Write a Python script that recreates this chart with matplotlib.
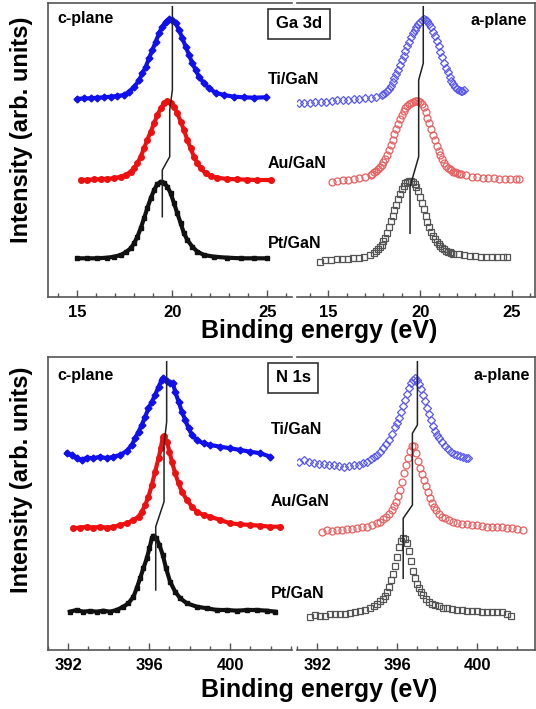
import numpy as np
import matplotlib.pyplot as plt

plt.rcParams['font.family'] = ['Liberation Sans', 'DejaVu Sans']
plt.rcParams['font.weight'] = 'bold'

# ---------------- Ga 3d, c-plane ----------------
ga_c_ti_x = [15.00, 15.35, 15.70, 16.05, 16.40, 16.75, 17.11, 17.46, 17.72, 17.98, 18.25, 18.42, 18.60,
             18.77, 18.95, 19.12, 19.30, 19.47, 19.65, 19.82, 20.00, 20.18, 20.35, 20.53, 20.70, 20.88,
             21.05, 21.23, 21.40, 21.67, 21.93, 22.28, 22.72, 23.25, 23.77, 24.30, 24.91]
ga_c_ti_y = [198, 198.7, 198.7, 199.3, 199.7, 200.3, 201, 202, 205.3, 209.7, 217, 223.7, 230.3,
             238.7, 247, 255.3, 263.7, 270.3, 275.3, 277.7, 277, 273.7, 267, 258.7, 250.3, 242,
             233.7, 227, 220.3, 213.7, 208.7, 204.3, 202, 200.3, 199.7, 199.3, 199.7]
ga_c_au_x = [15.18, 15.53, 15.88, 16.23, 16.58, 16.93, 17.28, 17.54, 17.81, 17.98, 18.16, 18.33, 18.51,
             18.68, 18.86, 19.04, 19.21, 19.39, 19.56, 19.74, 19.91, 20.09, 20.26, 20.44, 20.61, 20.79,
             20.96, 21.14, 21.32, 21.49, 21.75, 22.02, 22.37, 22.89, 23.42, 23.95, 24.47, 25.18]
ga_c_au_y = [117, 117, 117.7, 117.7, 118.3, 118.7, 120.3, 122, 125.3, 128.7, 133.7, 140.3, 148.7,
             157, 165.3, 173.7, 182, 188.7, 193.7, 196, 194.3, 190.3, 183.7, 175.3, 167, 157,
             148.7, 140.3, 133.7, 128.7, 123.7, 121, 119.3, 118, 117.7, 117.3, 117, 117]
ga_c_pt_x = [15.00, 15.53, 16.05, 16.58, 16.93, 17.28, 17.54, 17.81, 17.98, 18.16, 18.33, 18.51, 18.68,
             18.86, 19.04, 19.21, 19.39, 19.56, 19.74, 19.91, 20.09, 20.26, 20.44, 20.61, 20.79, 21.05,
             21.32, 21.67, 22.19, 22.89, 23.60, 24.30, 25.00]
ga_c_pt_y = [38.7, 38.7, 38.7, 39.3, 40.3, 42, 44.7, 48.7, 53.7, 60.3, 68.7, 78.7, 88.7,
             98.7, 107, 113, 115.3, 114.3, 110.3, 103.7, 93.7, 83.7, 73.7, 63.7, 57, 50.3,
             45.3, 42, 40.3, 39.3, 38.7, 38.7, 38.7]
ga_c_guide_x = [20.0, 20.0, 19.86, 19.86, 19.47, 19.47]
ga_c_guide_y = [290.3, 207, 187, 140.3, 127, 80.3]

# ---------------- Ga 3d, a-plane ----------------
ga_a_ti_x = [13.4, 13.7, 14.0, 14.3, 14.6, 14.9, 15.2, 15.5, 15.8, 16.1, 16.4, 16.7, 17.0, 17.3, 17.6, 17.9,
             18.0, 18.1, 18.2, 18.3, 18.4, 18.5, 18.6, 18.7, 18.8, 18.9, 19.0, 19.1, 19.2, 19.3, 19.4,
             19.5, 19.6, 19.7, 19.8, 19.9, 20.0, 20.1, 20.2, 20.3, 20.4, 20.5, 20.6, 20.7, 20.8, 20.9,
             21.0, 21.1, 21.2, 21.3, 21.4, 21.5, 21.6, 21.7, 21.8, 21.9, 22.0, 22.1, 22.2, 22.3, 22.4]
ga_a_ti_y = [193.7, 194.3, 194.3, 195, 195.3, 195.3, 196, 197, 197, 197.3, 197.7, 198.3, 198.7, 199.5, 200.5, 202,
             202.7, 204, 206, 208.5, 211.5, 215, 218.7, 223, 227.5, 232.5, 237, 241.5, 246, 251, 255.5,
             260, 264, 267.5, 270.5, 273, 275.5, 277, 277.7, 277.5, 276.5, 273.5, 270, 265.5, 261, 256,
             251, 245.5, 240, 234.5, 229.5, 225, 220.5, 216.5, 213, 210.5, 208.5, 207, 206.3, 206.5, 207]
ga_a_au_x = [15.2, 15.5, 15.8, 16.1, 16.4, 16.7, 17.0, 17.3,
             17.4, 17.5, 17.6, 17.7, 17.8, 17.9, 18.0, 18.1, 18.2, 18.3, 18.4, 18.5, 18.6, 18.7, 18.8,
             18.9, 19.0, 19.1, 19.2, 19.3, 19.4, 19.5, 19.6, 19.7, 19.8, 19.9, 20.0, 20.1, 20.2, 20.3,
             20.4, 20.5, 20.6, 20.7, 20.8, 20.9, 21.0, 21.1, 21.2, 21.3, 21.4, 21.5, 21.6, 21.7, 21.8,
             21.9, 22.0, 22.1, 22.2,
             22.5, 22.8, 23.1, 23.4, 23.7, 24.0, 24.3, 24.6, 24.9, 25.2, 25.4]
ga_a_au_y = [115.3, 116, 116.7, 117.3, 118, 118.9, 120.3, 122.5,
             123.3, 124.8, 126.3, 128, 129.8, 132.3, 135, 138.5, 142.5, 147, 152, 157.5, 163, 168.5, 173.5,
             178.3, 182.3, 185.7, 188.8, 191.3, 193, 194, 195, 195.8, 196.3, 196.2, 195.5, 193.5, 190, 185,
             179.5, 174, 168.3, 162.5, 157, 151.5, 146.5, 142.3, 138.5, 134.3, 131.5, 129.5, 128, 126.8, 125.5,
             124.6, 124, 123.5, 123,
             121.7, 120.5, 119.8, 119.3, 119, 118.6, 118.2, 118, 117.8, 117.7, 117.7]
ga_a_pt_x = [14.55, 14.85, 15.15, 15.45, 15.75, 16.05, 16.35, 16.65, 16.95, 17.25,
             17.5, 17.6, 17.7, 17.8, 17.9, 18.0, 18.1, 18.2, 18.3, 18.4, 18.5, 18.6, 18.7, 18.8, 18.9,
             19.0, 19.1, 19.2, 19.3, 19.4, 19.5, 19.6, 19.7, 19.8, 19.9, 20.0, 20.1, 20.2, 20.3, 20.4,
             20.5, 20.6, 20.7, 20.8, 20.9, 21.0, 21.1, 21.2, 21.3, 21.4, 21.5, 21.6, 21.7, 21.8,
             22.1, 22.4, 22.7, 23.0, 23.3, 23.6, 23.9, 24.2, 24.5, 24.75]
ga_a_pt_y = [35.3, 36.7, 37.5, 37.7, 38, 38.4, 38.7, 39.5, 40.5, 42,
             44.5, 45.8, 47.7, 50, 52.5, 56, 59.5, 64.5, 70.3, 76, 81.5, 87, 92.5, 98, 103.3,
             108, 111.5, 113.8, 115.5, 116.3, 116.3, 115.3, 113.5, 110.5, 106, 100.5, 94.5, 88, 81.5, 75.5,
             70.3, 65.5, 61.3, 58, 55.2, 52.8, 50.8, 49, 47.6, 46.3, 45.4, 44.6, 43.9, 43.5,
             42.6, 41.8, 41.2, 40.8, 40.4, 40, 39.7, 39.7, 39.7, 39.7]
ga_a_guide_x = [20.17, 20.17, 19.92, 19.92, 19.45, 19.45]
ga_a_guide_y = [290.3, 233.7, 217, 140.3, 110.3, 63.7]

# ---------------- N 1s, c-plane ----------------
n_c_ti_x = [391.92, 392.17, 392.41, 392.66, 392.91, 393.24, 393.57, 393.90, 394.23, 394.56, 394.89,
            395.14, 395.30, 395.47, 395.63, 395.80, 395.96, 396.13, 396.29, 396.46, 396.62, 396.70,
            396.87, 397.03, 397.17, 397.28, 397.45, 397.61, 397.78, 397.94, 398.11, 398.35, 398.68,
            399.01, 399.51, 400.00, 400.50, 400.99, 401.49, 401.98]
n_c_ti_y = [196.7, 195, 191.7, 190, 192.3, 191.7, 193.3, 191.7, 193.3, 195, 199,
            205, 211.7, 218.3, 225, 233.3, 241.7, 248.3, 255, 263.3, 270, 271.7,
            269, 266.7, 266.7, 258.3, 248.3, 238.3, 230, 221.7, 215, 210, 206.7,
            205, 203.3, 201.7, 200, 198.3, 196.7, 193.3]
n_c_au_x = [392.25, 392.58, 392.91, 393.24, 393.57, 393.90, 394.23, 394.56, 394.89, 395.22, 395.47,
            395.63, 395.80, 395.96, 396.13, 396.29, 396.46, 396.57, 396.67, 396.74, 396.87, 397.00,
            397.12, 397.28, 397.45, 397.61, 397.86, 398.11, 398.35, 398.68, 399.01, 399.51, 400.00,
            400.50, 400.99, 401.49, 401.98, 402.48]
n_c_au_y = [121.7, 122.3, 123.3, 122.3, 123.3, 122.3, 123.3, 125, 126.7, 130, 133.3,
            138.3, 145, 153.3, 165, 178.3, 191.7, 201.7, 213.3, 214.3, 208.3, 198.3,
            188.3, 176.7, 166.7, 158.3, 150, 143.3, 138.3, 135, 133.3, 130, 126.7,
            125.7, 125, 124.3, 123.3, 123.3]
n_c_pt_x = [392.08, 392.41, 392.74, 393.07, 393.40, 393.73, 394.06, 394.39, 394.72, 394.97, 395.22,
            395.38, 395.55, 395.71, 395.88, 396.01, 396.13, 396.21, 396.34, 396.50, 396.67, 396.83,
            397.03, 397.28, 397.53, 397.86, 398.35, 398.85, 399.34, 399.84, 400.33, 400.83, 401.32,
            401.82, 402.23]
n_c_pt_y = [38.3, 40, 38.3, 39, 38.3, 39.3, 38.3, 40, 43.3, 46.7, 53.3,
            61.7, 71.7, 81.7, 91.7, 101.7, 111.7, 114.3, 112.3, 105, 95, 81.7,
            68.3, 58.3, 51.7, 46.7, 43.3, 41.7, 40, 40, 39.3, 40, 40,
            39.3, 38.3]
n_c_guide_x = [396.86, 396.86, 396.73, 396.73, 396.32, 396.32]
n_c_guide_y = [288.3, 228.3, 205, 148.3, 123.3, 60]

# ---------------- N 1s, a-plane ----------------
n_a_ti_x = [391.1, 391.35, 391.6, 391.85, 392.1, 392.35, 392.6, 392.85, 393.1, 393.35, 393.6, 393.85,
            394.1, 394.3, 394.5, 394.7, 394.85, 395.0, 395.15, 395.3, 395.45, 395.6, 395.75, 395.9,
            396.0, 396.1, 396.2, 396.3, 396.4, 396.5, 396.6, 396.7, 396.8, 396.9, 397.0, 397.1, 397.2,
            397.3, 397.4, 397.5, 397.6, 397.7, 397.8, 397.9, 398.0, 398.1, 398.25, 398.4, 398.55,
            398.7, 398.85, 399.0, 399.15, 399.3, 399.45, 399.57]
n_a_ti_y = [188.3, 190, 188, 187, 186.5, 185.7, 185, 184.6, 184, 183.3, 184, 184.7,
            185.5, 186.7, 188.5, 191, 193.3, 195.5, 198.5, 201.7, 206, 210.5, 216.5, 222.8,
            227, 232, 238.3, 244.5, 250.5, 256.5, 262.5, 267, 270.5, 271.7, 270.5, 266.5, 261,
            255, 248.7, 242.3, 236, 230.5, 224.3, 219, 215, 212, 207.7, 204, 200.7,
            198.3, 196.5, 195.5, 194.5, 193.5, 192.5, 191.7]
n_a_au_x = [392.25, 392.5, 392.75, 393.0, 393.25, 393.5, 393.75, 394.0, 394.25, 394.5, 394.75, 395.0,
            395.15, 395.3, 395.45, 395.6, 395.75, 395.85, 395.95, 396.05, 396.15, 396.25, 396.35,
            396.45, 396.55, 396.65, 396.75, 396.85, 396.95, 397.05, 397.15, 397.25, 397.35, 397.45,
            397.55, 397.65, 397.75, 397.85, 397.95, 398.1, 398.25, 398.4, 398.6, 398.8, 399.0, 399.25,
            399.5, 399.75, 400.0, 400.25, 400.5, 400.75, 401.0, 401.25, 401.5, 401.75, 402.0, 402.29]
n_a_au_y = [118.3, 120, 119.2, 119.6, 120.3, 120.7, 121.5, 122, 122.6, 123.4, 124.6, 126.8,
            128.5, 130.6, 133, 136.3, 140.3, 144, 148.3, 154, 160.3, 168.5, 177.5,
            185.5, 192, 199, 204.5, 204, 197, 189, 182, 176, 170, 164,
            158, 152, 147.3, 143.5, 140, 136.5, 133.5, 131.7, 130, 128.5, 127.4, 126.3,
            125.6, 125.2, 124.8, 123.7, 123.3, 123.3, 123.2, 122.7, 122.2, 121.8, 121.5, 120]
n_a_pt_x = [391.67, 391.9, 392.15, 392.4, 392.65, 392.9, 393.15, 393.4, 393.65, 393.9, 394.15, 394.4,
            394.65, 394.85, 395.0, 395.15, 395.3, 395.4, 395.5, 395.6, 395.7, 395.8, 395.9, 396.0,
            396.1, 396.2, 396.3, 396.4, 396.5, 396.6, 396.7, 396.8, 396.9, 397.0, 397.1, 397.2, 397.3,
            397.45, 397.6, 397.75, 397.9, 398.1, 398.3, 398.5, 398.75, 399.0, 399.25, 399.5, 399.75,
            400.0, 400.25, 400.5, 400.75, 401.0, 401.25, 401.5, 401.71]
n_a_pt_y = [33.3, 35, 34.5, 34.5, 35.7, 36.5, 36, 35.9, 36.7, 37.8, 39.2, 40.5,
            41.9, 44.5, 46.5, 48.7, 51.5, 54.5, 58.5, 63.5, 70, 76.5, 84, 93.3,
            103, 109.5, 112, 111.5, 106.7, 99, 89, 79.5, 72, 66.5, 61.7, 58, 54.8,
            51.5, 48.3, 46.5, 45.2, 43.8, 42.5, 41.8, 41, 40.5, 40, 39.5, 39,
            38.6, 38.3, 38.3, 38.3, 38, 37.6, 36.5, 34.3]
n_a_guide_x = [397.02, 397.02, 396.77, 396.77, 396.31, 396.31]
n_a_guide_y = [288.3, 225, 216.7, 145, 131.7, 71.7]

samples = ['Ti/GaN', 'Au/GaN', 'Pt/GaN']
top_ticks = [15, 20, 25]
bot_ticks = [392, 396, 400]

W, H = 536, 709
fig = plt.figure(figsize=(W / 100, H / 100), dpi=100)


def px_axes(x0, y0, x1, y1):
    return fig.add_axes([x0 / W, 1 - y1 / H, (x1 - x0) / W, (y1 - y0) / H])


spine_col = '#555555'
blue, red, black = '#1010ee', '#ee1010', '#111111'
blue_o, red_o, black_o = '#5a5aee', '#e86060', '#555555'


def style(ax, side, xlim, ylim, major, minor):
    ax.set_xlim(*xlim)
    ax.set_ylim(*ylim)
    ax.set_yticks([])
    ax.set_xticks(major)
    ax.set_xticks(minor, minor=True)
    ax.tick_params(axis='x', which='major', direction='in', length=5, width=1, color=spine_col,
                   labelsize=12, pad=6)
    ax.tick_params(axis='x', which='minor', direction='in', length=3, width=1, color=spine_col)
    for lab in ax.get_xticklabels():
        lab.set_fontweight('bold')
    for s in ax.spines.values():
        s.set_color(spine_col)
        s.set_linewidth(1.2)
    if side == 'left':
        ax.spines['right'].set_visible(False)
    else:
        ax.spines['left'].set_visible(False)
    ax.patch.set_alpha(0)


def filled(ax, x, y, c, m, ms):
    ax.plot(x, y, color=c, lw=3, marker=m, ms=ms, mec=c, mfc=c, zorder=2)


def hollow(ax, x, y, c, m, ms):
    ax.plot(x, y, ls='none', marker=m, ms=ms, mec=c, mfc='none', mew=0.9, zorder=2)


# top panel
ax1 = px_axes(48, 3, 292, 297)
ax2 = px_axes(297, 3, 535, 297)
style(ax1, 'left', (13.45, 26.3), (0, 294), top_ticks, range(14, 27))
style(ax2, 'right', (13.3, 26.25), (0, 294), top_ticks, range(14, 27))
filled(ax1, ga_c_ti_x, ga_c_ti_y, blue, 'D', 3.5)
filled(ax1, ga_c_au_x, ga_c_au_y, red, 'o', 4)
filled(ax1, ga_c_pt_x, ga_c_pt_y, black, 's', 3.5)
ax1.plot(ga_c_guide_x, ga_c_guide_y, color='#222222', lw=1.1, zorder=3)
hollow(ax2, ga_a_ti_x, ga_a_ti_y, blue_o, 'D', 4.5)
hollow(ax2, ga_a_au_x, ga_a_au_y, red_o, 'o', 5)
hollow(ax2, ga_a_pt_x, ga_a_pt_y, black_o, 's', 4.5)
ax2.plot(ga_a_guide_x, ga_a_guide_y, color='#222222', lw=1.1, zorder=3)

# bottom panel
ax3 = px_axes(48, 357, 292, 650)
ax4 = px_axes(297, 357, 535, 650)
style(ax3, 'left', (391.0, 403.05), (0, 293), bot_ticks, range(391, 404))
style(ax4, 'right', (391.0, 402.9), (0, 293), bot_ticks, range(391, 403))
filled(ax3, n_c_ti_x, n_c_ti_y, blue, 'D', 3.5)
filled(ax3, n_c_au_x, n_c_au_y, red, 'o', 4)
filled(ax3, n_c_pt_x, n_c_pt_y, black, 's', 3.5)
ax3.plot(n_c_guide_x, n_c_guide_y, color='#222222', lw=1.1, zorder=3)
hollow(ax4, n_a_ti_x, n_a_ti_y, blue_o, 'D', 4.5)
hollow(ax4, n_a_au_x, n_a_au_y, red_o, 'o', 5)
hollow(ax4, n_a_pt_x, n_a_pt_y, black_o, 's', 4.5)
ax4.plot(n_a_guide_x, n_a_guide_y, color='#222222', lw=1.1, zorder=3)


def ftext(x, y, s, size, **kw):
    fig.text(x / W, 1 - y / H, s, fontsize=size, fontweight='bold', va='center', **kw)


# panel annotations
ftext(57, 19, 'c-plane', 11.5, ha='left')
ftext(527, 21, 'a-plane', 11.5, ha='right')
ftext(57, 376, 'c-plane', 11.5, ha='left')
ftext(530, 376, 'a-plane', 11.5, ha='right')
ftext(299, 24, 'Ga 3d', 12, ha='center',
      bbox=dict(boxstyle='square,pad=0.45', fc='white', ec='#333333', lw=1.2))
ftext(293, 378, 'N 1s', 12, ha='center',
      bbox=dict(boxstyle='square,pad=0.45', fc='white', ec='#333333', lw=1.2))

for s, yy in zip(samples, [80, 163, 243]):
    ftext(268, yy, s, 11.5, ha='left')
for s, yy in zip(samples, [430, 502, 593]):
    ftext(271, yy, s, 11.5, ha='left')

ftext(319, 331, 'Binding energy (eV)', 18, ha='center')
ftext(319, 690, 'Binding energy (eV)', 18, ha='center')
ftext(22, 130, 'Intensity (arb. units)', 17, ha='center', rotation=90)
ftext(22, 480, 'Intensity (arb. units)', 17, ha='center', rotation=90)

fig.savefig('out.png', dpi=100)
